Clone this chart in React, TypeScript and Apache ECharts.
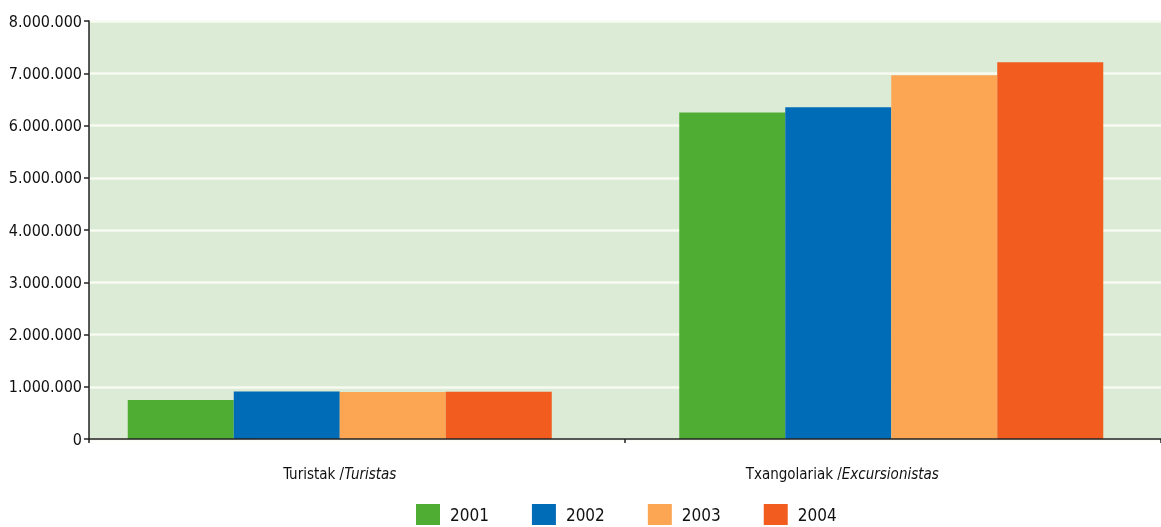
import React, { useEffect, useRef } from "react";
import * as echarts from "echarts";

const catEu = ["Turistak", "Txangolariak"];
const catEs = ["Turistas", "Excursionistas"];
const years = ["2001", "2002", "2003", "2004"];
const v2001 = [745000, 6250000];
const v2002 = [910000, 6350000];
const v2003 = [900000, 6960000];
const v2004 = [905000, 7210000];
const yTicks = [0, 1000000, 2000000, 3000000, 4000000, 5000000, 6000000, 7000000, 8000000];

const values = [v2001, v2002, v2003, v2004];
const colors = ["#50ad34", "#006bb6", "#fca653", "#f25c1f"];
const FONT = "'Liberation Sans Narrow', 'DejaVu Sans Condensed', 'Roboto Condensed', sans-serif";

const fmt = (v: number) => String(v).replace(/\B(?=(\d{3})+(?!\d))/g, ".");

export default function App() {
  const ref = useRef<HTMLDivElement>(null);
  useEffect(() => {
    if (!ref.current) return;
    const chart = echarts.init(ref.current, null, { renderer: "svg" });
    const yMin = yTicks[0];
    const yMax = yTicks[yTicks.length - 1];
    const yStep = yTicks[1] - yTicks[0];
    chart.setOption({
      animation: false,
      textStyle: { fontFamily: FONT },
      legend: {
        left: 411,
        top: 499,
        itemWidth: 24,
        itemHeight: 21,
        itemGap: 43,
        icon: "rect",
        data: years,
        textStyle: { fontFamily: FONT, fontSize: 17, color: "#111", width: 45, padding: [0, 0, 0, 5] },
      },
      grid: [
        { left: 89, right: 0, top: 21, bottom: 88, show: true, backgroundColor: "#dcebd5", borderWidth: 0, outerBoundsMode: "none", containLabel: false },
        { left: 64, right: -6, top: 21, bottom: 88, outerBoundsMode: "none", containLabel: false },
      ],
      xAxis: [
        {
          type: "category",
          gridIndex: 0,
          data: catEu,
          z: 5,
          axisLine: { show: true, lineStyle: { color: "#222", width: 1.5 } },
          axisTick: { show: true, length: 4, lineStyle: { color: "#222", width: 1.5 } },
          axisLabel: { show: false },
          splitLine: { show: false },
        },
        {
          type: "category",
          gridIndex: 1,
          data: catEu,
          axisLine: { show: false },
          axisTick: { show: false },
          axisLabel: {
            margin: 27,
            formatter: (_v: string, i: number) =>
              i === 1 ? `{a|${catEu[i]} /}{b|${catEs[i]}}{s|}` : `{a|${catEu[i]} /}{b|${catEs[i]}}`,
            rich: {
              a: { fontFamily: FONT, fontSize: 15, color: "#111" },
              b: { fontFamily: FONT, fontSize: 15, color: "#111", fontStyle: "italic" },
              s: { width: 98 },
            },
          },
        },
      ],
      yAxis: [
        {
          type: "value",
          gridIndex: 0,
          min: yMin,
          max: yMax,
          interval: yStep,
          axisLine: { show: true, lineStyle: { color: "#222", width: 1.5 } },
          axisTick: { show: true, length: 5, lineStyle: { color: "#222", width: 1.5 } },
          axisLabel: { margin: 7, fontFamily: FONT, fontSize: 16, color: "#111", formatter: fmt },
          splitLine: { show: true, lineStyle: { color: "#f7fbf1", width: 2.5 } },
        },
        {
          type: "value",
          gridIndex: 1,
          min: yMin,
          max: yMax,
          interval: yStep,
          show: false,
        },
      ],
      series: years.map((y, i) => ({
        name: y,
        type: "bar",
        xAxisIndex: 1,
        yAxisIndex: 1,
        data: values[i],
        barWidth: 106,
        barGap: "0%",
        itemStyle: { color: colors[i] },
      })),
    });
    return () => chart.dispose();
  }, []);
  return <div ref={ref} style={{ position: "fixed", left: 0, top: 0, width: 1161, height: 527 }} />;
}
